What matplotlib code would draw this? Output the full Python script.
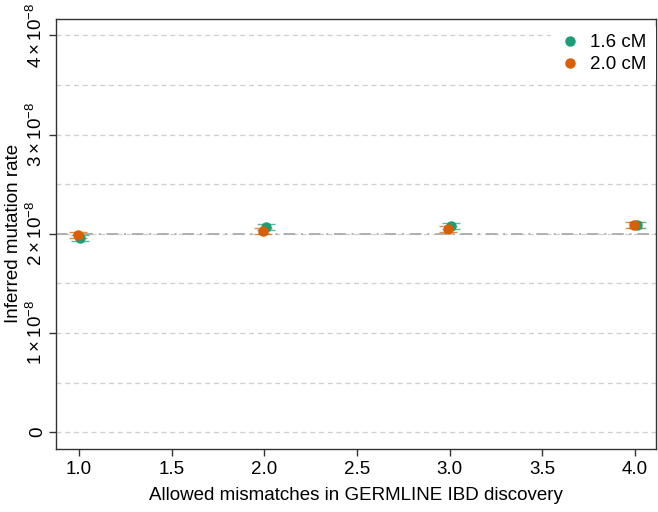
import matplotlib
matplotlib.use("Agg")
import matplotlib.pyplot as plt
import numpy as np

plt.rcParams['font.family'] = ['Liberation Sans', 'DejaVu Sans']
plt.rcParams['mathtext.fontset'] = 'custom'
plt.rcParams['mathtext.rm'] = 'Liberation Sans'
plt.rcParams['mathtext.it'] = 'Liberation Sans:italic'

mismatches = [1.0, 2.0, 3.0, 4.0]
series_labels = ["1.6 cM", "2.0 cM"]
rate_16 = [1.96e-8, 2.065e-8, 2.08e-8, 2.09e-8]
rate_20 = [1.99e-8, 2.025e-8, 2.05e-8, 2.09e-8]
err_16 = [0.03e-8, 0.03e-8, 0.03e-8, 0.03e-8]
err_20 = [0.03e-8, 0.03e-8, 0.03e-8, 0.03e-8]
true_rate = 2e-8
colors = ["#1b9e77", "#d95f02"]
x_ticks = [1.0, 1.5, 2.0, 2.5, 3.0, 3.5, 4.0]
y_ticks = [0, 1e-8, 2e-8, 3e-8, 4e-8]
y_tick_labels = ["0", r"$1\times10^{-8}$", r"$2\times10^{-8}$", r"$3\times10^{-8}$", r"$4\times10^{-8}$"]
grid_y = np.arange(0, 4.01e-8, 0.5e-8)

fig = plt.figure(figsize=(6.58, 5.12), dpi=100)
ax = fig.add_axes([56/658, 1-449/512, 600/658, (449-18.5)/512])

for gy in grid_y:
    ax.axhline(gy, color="#cfcfcf", lw=0.9, ls=(0, (4, 3)), zorder=0)
ax.axhline(true_rate, color="#b0b0b0", lw=1.4, ls=(0, (6, 3, 1, 3)), zorder=1)

offs = [0.008, -0.008]
for vals, errs, c, lab, o in [(rate_16, err_16, colors[0], series_labels[0], offs[0]),
                              (rate_20, err_20, colors[1], series_labels[1], offs[1])]:
    xs = np.array(mismatches) + o
    ax.errorbar(xs, vals, yerr=errs, fmt='none', ecolor=c, elinewidth=0.8,
                capsize=6.5, capthick=1.0, alpha=0.7, zorder=3)
    ax.plot(xs, vals, 'o', color=c, ms=6.5, label=lab, zorder=4, ls='none')

ax.set_xlim(0.876, 4.113)
ax.set_ylim(-0.17e-8, 4.17e-8)
ax.set_xticks(x_ticks)
ax.set_xticklabels([f"{v:.1f}" for v in x_ticks])
ax.set_yticks(y_ticks)
ax.set_yticklabels(y_tick_labels, rotation=90, va='center')
ax.tick_params(axis='both', labelsize=13.5, direction='out', length=5, width=1, color='#333333')
ax.tick_params(axis='x', pad=3.5)
ax.tick_params(axis='y', pad=2)
ax.set_xlabel("Allowed mismatches in GERMLINE IBD discovery", fontsize=13.5)
ax.set_ylabel("Inferred mutation rate", fontsize=13.5)
ax.xaxis.set_label_coords(0.5, -0.1085)
ax.yaxis.set_label_coords(-0.0713, 0.5)
ax.xaxis.label.set_va('center')
ax.yaxis.label.set_va('center')
for s in ax.spines.values():
    s.set_color('#333333')
    s.set_linewidth(1.0)

leg = ax.legend(loc='upper right', bbox_to_anchor=(1.0, 0.985), fontsize=13.5, frameon=True,
                handletextpad=0.6, borderaxespad=0.0, borderpad=0.5,
                handlelength=1.0, labelspacing=0.25)
leg.get_frame().set_facecolor('white')
leg.get_frame().set_edgecolor('none')
leg.get_frame().set_alpha(1)

fig.savefig("out.png", dpi=100)
